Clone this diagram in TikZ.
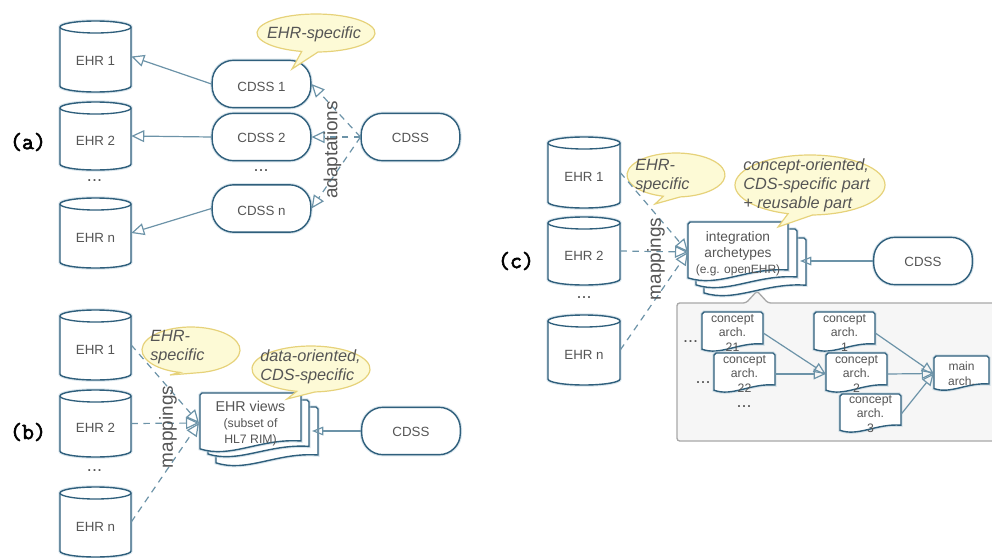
\documentclass[tikz,border=0pt]{standalone}
\usepackage{fontspec}
\setmainfont{Liberation Sans}
\newfontfamily\tagfont[FakeBold=2.5]{Latin Modern Mono}
\usetikzlibrary{arrows.meta}
\definecolor{bdr}{HTML}{2F5F7C}
\definecolor{glowc}{HTML}{B9CFDC}
\definecolor{conn}{HTML}{6C93A8}
\definecolor{txt}{HTML}{555555}
\definecolor{bubf}{HTML}{FDFAD6}
\definecolor{bubd}{HTML}{E6D27A}
\definecolor{pang}{HTML}{F6F6F6}
\definecolor{pand}{HTML}{A8A8A8}
\tikzset{
  outl/.style={draw=bdr,fill=white,line width=1.05pt,preaction={draw=glowc,line width=2.6pt,draw opacity=.55}},
  lbl/.style={text=txt,font=\fontsize{10}{12}\selectfont,inner sep=0pt,align=center},
  pill/.style={outl,lbl,rounded corners=16pt,minimum width=74pt,minimum height=35.5pt},
  dblabel/.style={lbl},
  smalldoc/.style={text=txt,font=\fontsize{9.2}{11}\selectfont,inner sep=0pt,align=center},
  bigdoc/.style={lbl,font=\fontsize{9.2}{12}\selectfont},
  bub/.style={draw=bubd,fill=bubf,line width=.9pt},
  bubtext/.style={text=txt,font=\fontsize{12.2}{14.25}\selectfont\itshape,inner sep=0pt,align=left},
  vert/.style={text=txt,font=\fontsize{14.2}{16}\selectfont,inner sep=0pt,rotate=90},
  dotsl/.style={text=txt,font=\fontsize{13.5}{14}\selectfont,inner sep=0pt,anchor=base},
  tag/.style={font=\fontsize{17.5}{20}\tagfont,text=black,inner sep=0pt},
  link/.style={draw=conn,line width=.9pt,-{Triangle[open,length=9.75pt,width=9pt]}},
  dlink/.style={link,dash pattern=on 5pt off 4pt},
  slink/.style={draw=conn,line width=.9pt,-{Triangle[open,length=9pt,width=8pt]}},
  stacklink/.style={draw=conn,line width=.9pt,-{Triangle[open,length=8.5pt,width=6.5pt]}},
}
\newcommand{\lowr}[2]{\raisebox{#1pt}[0pt][0pt]{#2}}
% name, x1, y1, x2, y2, label
\newcommand{\ehrdb}[6]{%
  \path[outl] (#2,#3+6) -- (#2,#5-6) arc[start angle=180,end angle=0,x radius={(#4-#2)/2},y radius=6] -- (#4,#3+6) arc[start angle=0,end angle=-180,x radius={(#4-#2)/2},y radius=6] -- cycle;
  \draw[bdr,line width=1pt] (#2,#3+6) arc[start angle=180,end angle=0,x radius={(#4-#2)/2},y radius=6];
  \node[dblabel,minimum width={(#4-#2)*.75pt},minimum height={(#5-#3)*.75pt}] (#1) at ({(#2+#4)/2},{(#3+#5)/2}) {\lowr{-7.1}{#6}};
}
% x1,y1,x2,y2
\newcommand{\docpage}[4]{%
  \path[outl] (#1+2,#2) -- (#3-2,#2) -- (#3,#2+2) -- (#3,{#4-.2*(#4-#2)}) .. controls ({#1+.6*(#3-#1)},{#4-.25*(#4-#2)}) and ({#1+.3*(#3-#1)},{#4+.1*(#4-#2)}) .. (#1,{#4-.07*(#4-#2)}) -- (#1,#2+2) -- cycle;
}
% cx,cy,rx,ry,a1,a2,tipx,tipy
\newcommand{\bubble}[8]{%
  \path[bub] ({#1+#3*cos(#5)},{#2+#4*sin(#5)}) arc[start angle=#5,end angle=#6+360,x radius=#3,y radius=#4] -- (#7,#8) -- cycle;
}
\begin{document}
\begin{tikzpicture}[x=.75pt,y=-.75pt]
\useasboundingbox (0,0) rectangle (992,557);
% ---------- (a)
\ehrdb{aE1}{60}{21}{131}{92}{EHR 1}
\ehrdb{aE2}{60}{102}{131}{170}{EHR 2}
\ehrdb{aEn}{60}{198}{131}{268}{EHR n}
\node[pill] (aC1) at (261.5,84) {\lowr{-5.3}{CDSS 1}};
\node[pill] (aC2) at (261.5,137) {\lowr{-4.1}{CDSS 2}};
\node[pill] (aCn) at (261.5,208.5) {\lowr{-4.9}{CDSS n}};
\node[pill] (aC) at (410.5,137) {\lowr{-4.1}{CDSS}};
\bubble{316}{33}{59}{19}{104}{88}{292}{69}
\draw[link] (aC1.west) -- (aE1.east);
\draw[link] (aC2.west) -- (aE2.east);
\draw[link] (aCn.west) -- (aEn.east);
\draw[dlink] (aC.west) -- (aC1.east);
\draw[dlink] (aC.west) -- (aC2.east);
\draw[dlink] (aC.west) -- (aCn.east);
\node[bubtext] (aB) at (314,34.5) {EHR-specific};
\node[vert] (aV) at (332.5,150) {adaptations};
\node[dotsl] (aD1) at (94.5,181) {...};
\node[dotsl] (aD2) at (261,171) {...};
\node[tag] (aT) at (28,142) {(a)};
% ---------- (b)
\ehrdb{bE1}{60}{310}{131}{380}{EHR 1}
\ehrdb{bE2}{60}{390}{131}{457}{EHR 2}
\ehrdb{bEn}{60}{487}{131}{557}{EHR n}
\node[pill] (bC) at (411,431) {\lowr{-4.3}{CDSS}};
\docpage{216}{407}{318}{467}
\docpage{208}{400}{309}{458}
\docpage{200}{393}{301}{453}
\node[bigdoc,minimum width=75pt,minimum height=44pt] (bV) at (250.5,423.5) {{\fontsize{10.7}{12}\selectfont EHR views}\\(subset of\\HL7 RIM)};
\coordinate (bT1) at (312,431);
\bubble{191}{350}{49}{23}{103}{83}{170}{375}
\bubble{311}{369}{59}{23}{104}{86}{287}{399}
\coordinate (bIn) at (199,423);
\draw[dlink] (bE1.east) -- (bIn);
\draw[dlink] (bE2.east) -- (bIn);
\draw[dlink] (bEn.east) -- (bIn);
\draw[stacklink] (bC.west) -- (bT1);
\node[bubtext,anchor=west] (bB1) at (150,347.5) {EHR-\\specific};
\node[bubtext,anchor=west] (bB2) at (260,367) {data-oriented,\\CDS-specific};
\node[vert] (bM) at (168,427) {mappings};
\node[dotsl] (bD) at (94.5,471) {...};
\node[tag] (bT) at (28,432) {(b)};
% ---------- (c)
\path[draw=pand,fill=pang,line width=1pt,rounded corners=2pt] (992,303) -- (768,303) -- (757,291) -- (746,303) -- (677,303) -- (677,441) -- (992,441);
\ehrdb{cE1}{548}{137}{620}{208}{EHR 1}
\ehrdb{cE2}{548}{217}{620}{285}{EHR 2}
\ehrdb{cEn}{548}{315}{620}{385}{EHR n}
\node[pill] (cC) at (923,261) {\lowr{-4.3}{CDSS}};
\docpage{704}{238}{806}{297}
\docpage{696}{229}{797}{289}
\docpage{688}{222}{788}{282}
\node[bigdoc,minimum width=75pt,minimum height=44pt] (cV) at (738,253.5) {{\fontsize{10.3}{12}\selectfont integration}\\{\fontsize{10.3}{12}\selectfont archetypes}\\{\fontsize{9}{12}\selectfont (e.g. openEHR)}};
\coordinate (cT1) at (800,261);
\coordinate (cIn) at (688,252);
\bubble{676}{175}{49}{22}{105}{85}{655}{204}
\bubble{810}{185}{75}{30}{107}{88}{778}{227}
\draw[dlink] (cE1.east) -- (cIn);
\draw[dlink] (cE2.east) -- (cIn);
\draw[dlink] (cEn.east) -- (cIn);
\draw[stacklink] (cC.west) -- (cT1);
\node[bubtext,anchor=west] (cB1) at (635,176.5) {EHR-\\specific};
\node[bubtext,anchor=west] (cB2) at (743,185) {concept-oriented,\\CDS-specific part\\+ reusable part};
\node[vert] (cM) at (656,259) {mappings};
\node[dotsl] (cD) at (584,298) {...};
\node[tag] (cT) at (516,261) {(c)};
% panel documents
\docpage{702}{312}{763}{352}
\docpage{714}{353}{775}{393}
\docpage{814}{312}{875}{352}
\docpage{826}{353}{887}{393}
\docpage{840}{394}{901}{433}
\docpage{934}{356}{989}{391}
\node[smalldoc,minimum width=45.75pt] (p21) at (732.5,333) {concept\\arch.\\21};
\node[smalldoc,minimum width=45.75pt] (p22) at (744.5,374) {concept\\arch.\\22};
\node[smalldoc,minimum width=45.75pt] (p1) at (844.5,333) {concept\\arch.\\1};
\node[smalldoc,minimum width=45.75pt] (p2) at (856.5,374) {concept\\arch.\\2};
\node[smalldoc,minimum width=45.75pt] (p3) at (870.5,414) {concept\\arch.\\3};
\node[smalldoc,minimum width=41.25pt,font=\fontsize{9}{11}\selectfont] (pM) at (961.5,373.5) {main\\arch.};
\draw[slink] (p21.east) -- (p2.west);
\draw[slink] (p22.east) -- (p2.west);
\draw[slink] (p1.east) -- (pM.west);
\draw[slink] (p2.east) -- (pM.west);
\draw[slink] (p3.east) -- (pM.west);
\node[dotsl] (pD1) at (690.5,342) {...};
\node[dotsl] (pD2) at (703,383) {...};
\node[dotsl] (pD3) at (744,407) {...};
\end{tikzpicture}
\end{document}
